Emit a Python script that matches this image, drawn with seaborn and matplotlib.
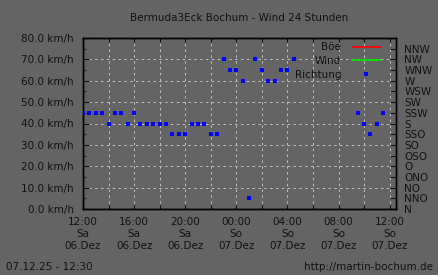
import matplotlib
matplotlib.use("Agg")
import matplotlib.pyplot as plt
import seaborn as sns
import pandas as pd
import numpy as np
from matplotlib.lines import Line2D
from matplotlib.ticker import MultipleLocator

# ---- data ----
title = "Bermuda3Eck Bochum - Wind 24 Stunden"
stamp = "07.12.25 - 12:30"
url = "http://martin-bochum.de"

# hours since Sa 06.Dez 12:00
hours = [0, 0.5, 1, 1.5, 2, 2.5, 3, 3.5, 4, 4.5, 5, 5.5, 6, 6.5, 7, 7.5, 8, 8.5,
         9, 9.5, 10, 10.5, 11, 11.5, 12, 12.5, 13, 13.5, 14, 14.5, 15, 15.5, 16, 16.5,
         21.5, 22, 22.5, 23, 23.5]
richtung = ["SSW", "SSW", "SSW", "SSW", "S", "SSW", "SSW", "S", "SSW", "S", "S", "S",
            "S", "S", "SSO", "SSO", "SSO", "S", "S", "S", "SSO", "SSO", "NW", "WNW",
            "WNW", "W", "NNO", "NW", "WNW", "W", "W", "WNW", "WNW", "NW",
            "SSW", "S", "SSO", "S", "SSW"]
compass = ["N", "NNO", "NO", "ONO", "O", "OSO", "SO", "SSO", "S", "SSW", "SW",
           "WSW", "W", "WNW", "NW", "NNW"]
tick_hours = [0, 4, 8, 12, 16, 20, 24]
tick_labels = ["12:00\nSa\n06.Dez", "16:00\nSa\n06.Dez", "20:00\nSa\n06.Dez",
               "00:00\nSo\n07.Dez", "04:00\nSo\n07.Dez", "08:00\nSo\n07.Dez",
               "12:00\nSo\n07.Dez"]
speed_ticks = [0, 10, 20, 30, 40, 50, 60, 70, 80]
legend_labels = ["Böe", "Wind", "Richtung"]

# ---- style ----
BG = "#646464"
TXT = "#111111"
GRID = "#c4c4c4"
sns.set_style("white")
plt.rcParams["font.family"] = ["DejaVu Sans"]
plt.rcParams["font.size"] = 7.5

df = pd.DataFrame({"h": hours,
                   "deg": [compass.index(r) * 22.5 for r in richtung]})

fig = plt.figure(figsize=(4.38, 2.75), dpi=100, facecolor=BG)
ax = fig.add_axes([83 / 438, 1 - 209 / 275, 313 / 438, 171 / 275])
ax.set_facecolor(BG)
ax.set_xlim(0, 24.5)
ax.set_ylim(0, 80)

ax2 = ax.twinx()
ax2.set_ylim(0, 360)
sns.scatterplot(data=df, x="h", y="deg", ax=ax2, marker="s", color="#0000ff",
                s=7, linewidth=0, legend=False, zorder=5)
ax2.set_xlabel("")
ax2.set_ylabel("")
ax.set_xlabel("")
ax.set_ylabel("")

# left axis
ax.set_yticks(speed_ticks)
ax.set_yticklabels([f"{v:.1f} km/h" for v in speed_ticks], color=TXT)
ax.yaxis.set_minor_locator(MultipleLocator(5))
ax.set_xticks(tick_hours)
ax.set_xticklabels(tick_labels, color=TXT)
ax.xaxis.set_minor_locator(MultipleLocator(2))
ax.tick_params(axis="y", which="major", direction="in", length=4, width=0.8,
               pad=6.5, colors=TXT, left=True, right=False)
ax.tick_params(axis="y", which="minor", direction="in", length=2.5, width=0.8,
               left=True, right=False)
ax.tick_params(axis="x", which="both", direction="in", length=3, width=0.8,
               pad=6, colors=TXT, top=True, bottom=True)
ax.tick_params(axis="x", labelcolor=TXT)

# grid
for v in speed_ticks[1:-1]:
    ax.axhline(v, color=GRID, lw=0.7, ls=(0, (2.5, 3.5)), zorder=0)
for hh in np.arange(2, 24.01, 2):
    ax.axvline(hh, color=GRID, lw=0.7, ls=(0, (2.5, 3.5)), zorder=0)

# right axis
ax2.set_yticks([i * 22.5 for i in range(len(compass))])
ax2.set_yticklabels(compass, color=TXT)
ax2.tick_params(axis="y", direction="in", length=4, width=0.8, pad=6,
                colors=TXT, labelcolor=TXT)

for a in (ax, ax2):
    for s in a.spines.values():
        s.set_color("black")
        s.set_linewidth(1.0)

# legend
handles = [Line2D([], [], color="#ff0000", lw=1.2),
           Line2D([], [], color="#00ee00", lw=1.2),
           Line2D([], [], color="#0000ff", marker="s", ls="none", markersize=2.6,
                  markeredgewidth=0)]
leg = ax2.legend(handles, legend_labels, loc="upper right", bbox_to_anchor=(0.965, 1.0),
                 markerfirst=False, frameon=False, handlelength=2.8,
                 handletextpad=1.0, labelspacing=0.36, borderaxespad=0.0,
                 borderpad=0.4, numpoints=1)
for t in leg.get_texts():
    t.set_color(TXT)

fig.text(239 / 438, 1 - 18 / 275, title, ha="center", va="center", color=TXT)
fig.text(6 / 438, 1 - 267.5 / 275, stamp, ha="left", va="center", color=TXT)
fig.text(433 / 438, 1 - 267.5 / 275, url, ha="right", va="center", color=TXT)

fig.savefig("out.png", dpi=100, facecolor=BG)
